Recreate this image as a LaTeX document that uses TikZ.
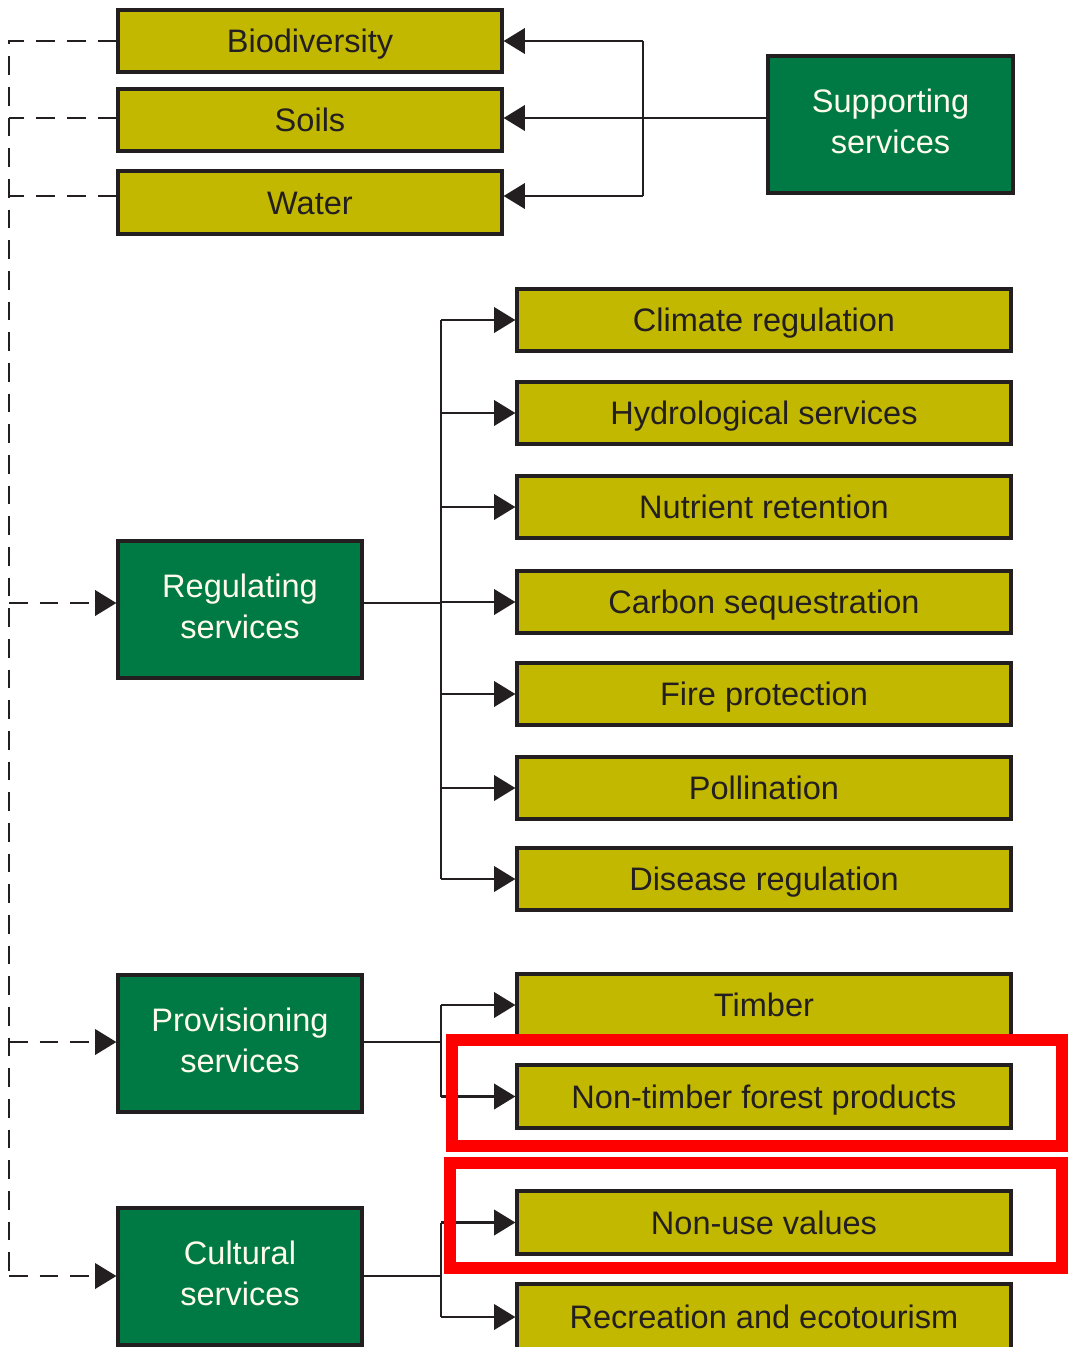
\documentclass[tikz,border=0pt]{standalone}
\usepackage{fontspec}
\setmainfont{Liberation Sans}
\usetikzlibrary{arrows.meta}
\definecolor{ylw}{HTML}{C3B800}
\definecolor{grn}{HTML}{007A45}
\definecolor{ink}{HTML}{231F20}
\definecolor{cream}{HTML}{FFFBEA}
\newcommand\bx[7]{\node[#1, minimum width={(#5-#3)*0.75pt}, minimum height={(#6-#4)*0.75pt}] (#2) at ({(#3+#5)/2},{(#4+#6)/2}) {#7};}
\begin{document}
\begin{tikzpicture}[x=0.75pt,y=-0.75pt,
  box/.style={draw=ink, line width=2.4pt, inner sep=0pt, align=center, font=\fontsize{24.4}{31}\selectfont},
  ybox/.style={box, fill=ylw, text=ink, text height=17.4pt, text depth=0pt},
  gbox/.style={box, fill=grn, text=cream, text depth=5pt},
  line/.style={draw=ink, line width=2.1pt},
  conn/.style={line, -{Triangle[length=16pt,width=19pt]}},
  dline/.style={line, dash pattern=on 14pt off 9pt},
  dconn/.style={dline, -{Triangle[length=16pt,width=19pt]}},
  redbox/.style={draw=red, line width=8.5pt}]
\useasboundingbox (0,0) rectangle (1068,1347);

% supporting group
\bx{ybox}{bio}{118}{10}{502}{72}{Biodiversity}
\bx{ybox}{soil}{118}{89}{502}{151}{Soils}
\bx{ybox}{water}{118}{171}{502}{234}{Water}
\bx{gbox}{sup}{768}{56}{1013}{193}{Supporting\\services}

% regulating group
\bx{gbox}{reg}{118}{541}{362}{678}{Regulating\\services}
\bx{ybox}{clim}{517}{289}{1011}{351}{Climate regulation}
\bx{ybox}{hyd}{517}{382}{1011}{444}{Hydrological services}
\bx{ybox}{nut}{517}{476}{1011}{538}{Nutrient retention}
\bx{ybox}{carb}{517}{571}{1011}{633}{Carbon sequestration}
\bx{ybox}{fire}{517}{663}{1011}{725}{Fire protection}
\bx{ybox}{poll}{517}{757}{1011}{819}{Pollination}
\bx{ybox}{dis}{517}{848}{1011}{910}{Disease regulation}

% provisioning group
\bx{gbox}{prov}{118}{975}{362}{1112}{Provisioning\\services}
\bx{ybox}{timb}{517}{974}{1011}{1036}{Timber}
\bx{ybox}{ntfp}{517}{1065}{1011}{1128}{Non-timber forest products}

% cultural group
\bx{gbox}{cult}{118}{1208}{362}{1345}{Cultural\\services}
\bx{ybox}{nonuse}{517}{1191}{1011}{1254}{Non-use values}
\bx{ybox}{recr}{517}{1284}{1011}{1350}{Recreation and ecotourism}

% supporting connectors
\coordinate (sb) at (643,118);
\coordinate (sbt) at (643,41);
\coordinate (sbb) at (643,196);
\draw[line] (sup.west |- sb) -- (sb);
\draw[line] (sbt) -- (sbb);
\draw[conn] (sbt) -- (bio.east |- sbt);
\draw[conn] (sb) -- (soil.east |- sb);
\draw[conn] (sbb) -- (water.east |- sbb);

% dashed feedback
\coordinate (d1) at (9,41);
\coordinate (d2) at (9,118);
\coordinate (d3) at (9,196);
\coordinate (d4) at (9,603);
\coordinate (d5) at (9,1042);
\coordinate (d6) at (9,1276);
\draw[dline] (bio.west |- d1) -- (d1) -- (d6);
\draw[dline] (soil.west |- d2) -- (d2);
\draw[dline] (water.west |- d3) -- (d3);
\draw[dconn] (d4) -- (reg.west |- d4);
\draw[dconn] (d5) -- (prov.west |- d5);
\draw[dconn] (d6) -- (cult.west |- d6);

% regulating connectors
\coordinate (rb) at (441,603);
\draw[line] (reg.east |- rb) -- (rb);
\draw[line] (rb |- clim.west) -- (rb |- dis.west);
\foreach \n in {clim,hyd,nut,carb,fire,poll,dis}
  \draw[conn] (rb |- \n.west) -- (\n.west);

% provisioning connectors
\coordinate (pb) at (441,1042);
\draw[line] (prov.east |- pb) -- (pb);
\draw[line] (pb |- timb.west) -- (pb |- ntfp.west);
\draw[conn] (pb |- timb.west) -- (timb.west);
\draw[conn] (pb |- ntfp.west) -- (ntfp.west);

% cultural connectors
\coordinate (cb) at (441,1276);
\draw[line] (cult.east |- cb) -- (cb);
\draw[line] (cb |- nonuse.west) -- (cb |- recr.west);
\draw[conn] (cb |- nonuse.west) -- (nonuse.west);
\draw[conn] (cb |- recr.west) -- (recr.west);

% highlight frames
\draw[redbox] (452,1040) rectangle (1062,1146);
\draw[redbox] (450,1163) rectangle (1062,1268);
\end{tikzpicture}
\end{document}
